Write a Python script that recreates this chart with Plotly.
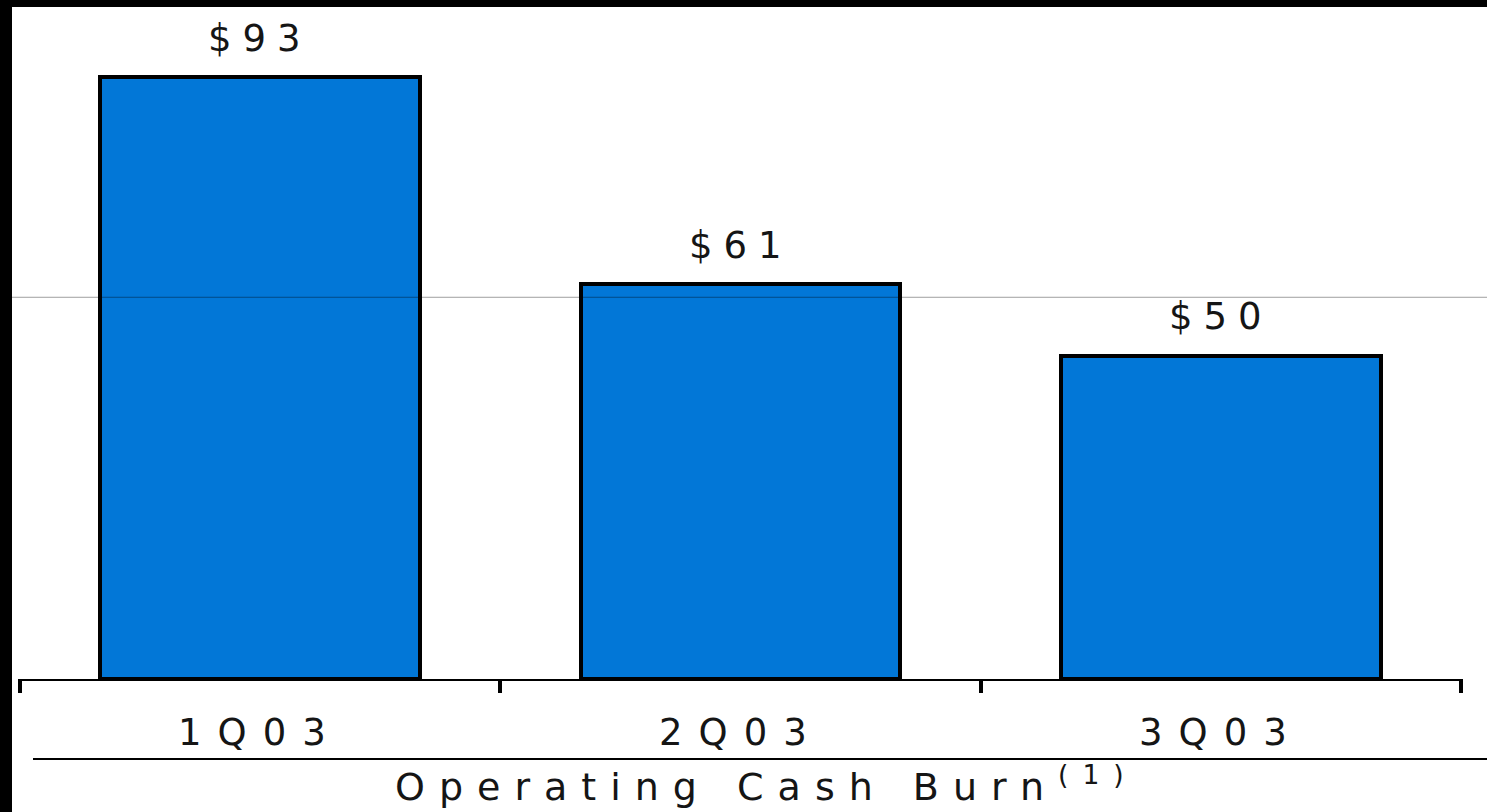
import plotly.graph_objects as go

# Quarterly operating cash burn ($M)
categories = ["1Q03", "2Q03", "3Q03"]
values = [93, 61, 50]
value_labels = ["$93", "$61", "$50"]
title_text = "Operating Cash Burn"
title_note = "(1)"
guide_level = 59

W, H = 1487, 812
M_L, M_R, M_T, M_B = 18, 24, 10, 133
PLOT_W = W - M_L - M_R
PLOT_H = H - M_T - M_B
PX_PER_UNIT = 6.47

BAR_BLUE = "#0277d7"
FONT = "DejaVu Sans"
TEXT_COLOR = "#151515"


def paper_x(px):
    return (px - M_L) / PLOT_W


def paper_y(py):
    return (H - M_B - py) / PLOT_H


def spaced(text, ls):
    return f"<span style='letter-spacing:{ls}px'>{text}</span>"


fig = go.Figure()
fig.add_trace(go.Bar(
    x=categories,
    y=values,
    width=0.665,
    marker=dict(color=BAR_BLUE, line=dict(color="black", width=4)),
    hoverinfo="skip",
))

annotations = []
# value labels above each bar
for cat, val, lab in zip(categories, values, value_labels):
    annotations.append(dict(
        x=cat, y=val, xref="x", yref="y",
        text=spaced(lab, 11), showarrow=False,
        yanchor="middle", yshift=39,
        font=dict(family=FONT, size=37, color=TEXT_COLOR),
    ))
# category labels under the axis
for cat in categories:
    annotations.append(dict(
        x=cat, y=paper_y(732), xref="x", yref="paper",
        text=spaced(cat, 16), showarrow=False,
        yanchor="middle",
        font=dict(family=FONT, size=37, color=TEXT_COLOR),
    ))
# chart title below the rule
annotations.append(dict(
    x=paper_x(766), y=paper_y(784), xref="paper", yref="paper",
    text=spaced(f"{title_text}<sup>{title_note}</sup>", 14), showarrow=False,
    yanchor="middle", xanchor="center",
    font=dict(family=FONT, size=38, color=TEXT_COLOR),
))

shapes = [
    # dark frame strips on the left and top
    dict(type="rect", xref="paper", yref="paper",
         x0=paper_x(0), x1=paper_x(12), y0=paper_y(H), y1=paper_y(0),
         fillcolor="black", line=dict(width=0), layer="above"),
    dict(type="rect", xref="paper", yref="paper",
         x0=paper_x(0), x1=paper_x(W), y0=paper_y(7), y1=paper_y(0),
         fillcolor="black", line=dict(width=0), layer="above"),
    # thin guide line across the chart
    dict(type="line", xref="paper", yref="y",
         x0=paper_x(12), x1=paper_x(W), y0=guide_level, y1=guide_level,
         line=dict(color="rgba(0,0,0,0.38)", width=1), layer="above"),
    # rule separating labels from title
    dict(type="line", xref="paper", yref="paper",
         x0=paper_x(33), x1=paper_x(W), y0=paper_y(759), y1=paper_y(759),
         line=dict(color="black", width=2), layer="above"),
]

fig.update_layout(
    width=W, height=H,
    margin=dict(l=M_L, r=M_R, t=M_T, b=M_B, pad=0),
    paper_bgcolor="white", plot_bgcolor="white",
    showlegend=False,
    annotations=annotations,
    shapes=shapes,
    bargap=0,
)
fig.update_xaxes(
    type="category",
    range=[-0.504, 2.504],
    tickson="boundaries",
    ticks="outside", ticklen=12, tickwidth=4, tickcolor="black",
    showticklabels=False,
    showline=True, linewidth=2, linecolor="black",
    showgrid=False, zeroline=False, fixedrange=True,
)
fig.update_yaxes(
    range=[0, PLOT_H / PX_PER_UNIT],
    showticklabels=False, showgrid=False, zeroline=False,
    showline=False, ticks="", fixedrange=True,
)

fig.write_html("out.html", config={"displayModeBar": False})
